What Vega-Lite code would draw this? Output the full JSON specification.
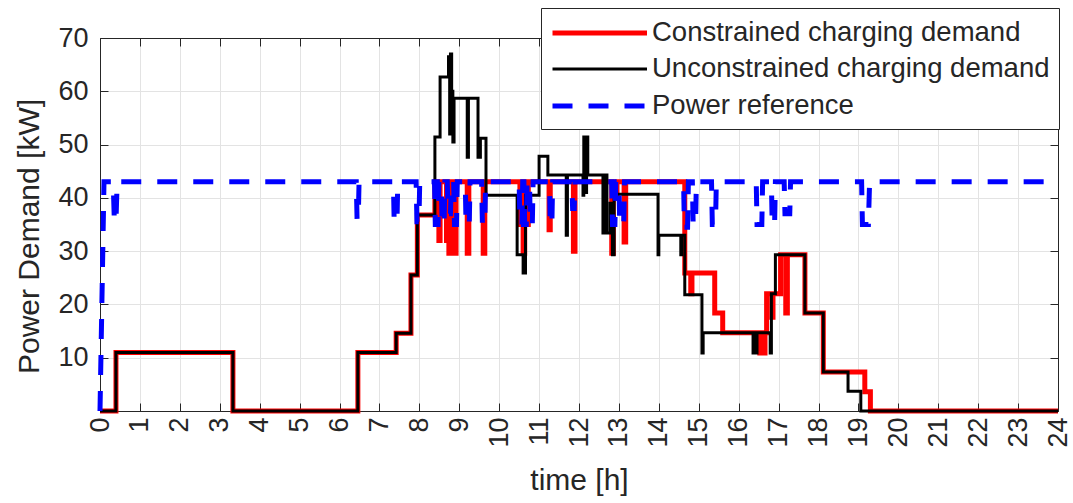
{
  "$schema": "https://vega.github.io/schema/vega-lite/v6.json",
  "width": 958,
  "height": 373,
  "autosize": {"type": "none"},
  "padding": {"left": 100, "top": 38, "right": 15, "bottom": 92},
  "background": "white",
  "config": {
    "font": "Liberation Sans",
    "view": {"stroke": "#262626", "strokeWidth": 1},
    "axis": {
      "labelFont": "Liberation Sans",
      "titleFont": "Liberation Sans",
      "labelFontSize": 27,
      "titleFontSize": 30,
      "labelColor": "#262626",
      "titleColor": "#262626",
      "titleFontWeight": "normal",
      "domainColor": "#262626",
      "tickColor": "#262626",
      "gridColor": "#e3e3e3",
      "gridWidth": 1,
      "tickSize": -8,
      "labelOverlap": false,
      "labelBound": false,
      "labelFlush": false
    },
    "legend": {
      "labelFont": "Liberation Sans",
      "labelFontSize": 27.5,
      "labelColor": "#262626"
    }
  },
  "data": {
    "values": [
      {"series": "Unconstrained charging demand", "t": 0, "p": 0},
      {"series": "Unconstrained charging demand", "t": 0.4, "p": 11},
      {"series": "Unconstrained charging demand", "t": 3.33, "p": 0},
      {"series": "Unconstrained charging demand", "t": 6.46, "p": 11},
      {"series": "Unconstrained charging demand", "t": 7.42, "p": 14.6},
      {"series": "Unconstrained charging demand", "t": 7.79, "p": 25.5},
      {"series": "Unconstrained charging demand", "t": 7.95, "p": 36.8},
      {"series": "Unconstrained charging demand", "t": 8.39, "p": 51.4},
      {"series": "Unconstrained charging demand", "t": 8.52, "p": 62.7},
      {"series": "Unconstrained charging demand", "t": 8.73, "p": 66.5},
      {"series": "Unconstrained charging demand", "t": 8.76, "p": 52},
      {"series": "Unconstrained charging demand", "t": 8.78, "p": 67},
      {"series": "Unconstrained charging demand", "t": 8.81, "p": 60},
      {"series": "Unconstrained charging demand", "t": 8.84, "p": 50.5},
      {"series": "Unconstrained charging demand", "t": 8.87, "p": 58.7},
      {"series": "Unconstrained charging demand", "t": 9.2, "p": 47.6},
      {"series": "Unconstrained charging demand", "t": 9.23, "p": 58.7},
      {"series": "Unconstrained charging demand", "t": 9.47, "p": 47.6},
      {"series": "Unconstrained charging demand", "t": 9.53, "p": 51.2},
      {"series": "Unconstrained charging demand", "t": 9.67, "p": 40.5},
      {"series": "Unconstrained charging demand", "t": 10.45, "p": 29.3},
      {"series": "Unconstrained charging demand", "t": 10.6, "p": 25.9},
      {"series": "Unconstrained charging demand", "t": 10.66, "p": 40.5},
      {"series": "Unconstrained charging demand", "t": 11.0, "p": 47.8},
      {"series": "Unconstrained charging demand", "t": 11.22, "p": 44.3},
      {"series": "Unconstrained charging demand", "t": 11.68, "p": 33},
      {"series": "Unconstrained charging demand", "t": 11.71, "p": 44.3},
      {"series": "Unconstrained charging demand", "t": 12.1, "p": 40.5},
      {"series": "Unconstrained charging demand", "t": 12.12, "p": 51.4},
      {"series": "Unconstrained charging demand", "t": 12.17, "p": 41},
      {"series": "Unconstrained charging demand", "t": 12.19, "p": 51.4},
      {"series": "Unconstrained charging demand", "t": 12.22, "p": 44.3},
      {"series": "Unconstrained charging demand", "t": 12.6, "p": 33.4},
      {"series": "Unconstrained charging demand", "t": 12.63, "p": 44.3},
      {"series": "Unconstrained charging demand", "t": 12.7, "p": 33.4},
      {"series": "Unconstrained charging demand", "t": 12.78, "p": 39},
      {"series": "Unconstrained charging demand", "t": 12.84, "p": 29.3},
      {"series": "Unconstrained charging demand", "t": 12.88, "p": 40.7},
      {"series": "Unconstrained charging demand", "t": 13.98, "p": 29.3},
      {"series": "Unconstrained charging demand", "t": 14.0, "p": 33},
      {"series": "Unconstrained charging demand", "t": 14.55, "p": 29.3},
      {"series": "Unconstrained charging demand", "t": 14.57, "p": 33},
      {"series": "Unconstrained charging demand", "t": 14.65, "p": 21.8},
      {"series": "Unconstrained charging demand", "t": 15.08, "p": 10.9},
      {"series": "Unconstrained charging demand", "t": 15.11, "p": 14.7},
      {"series": "Unconstrained charging demand", "t": 16.36, "p": 10.9},
      {"series": "Unconstrained charging demand", "t": 16.39, "p": 14.7},
      {"series": "Unconstrained charging demand", "t": 16.43, "p": 10.9},
      {"series": "Unconstrained charging demand", "t": 16.46, "p": 14.7},
      {"series": "Unconstrained charging demand", "t": 16.79, "p": 10.9},
      {"series": "Unconstrained charging demand", "t": 16.82, "p": 22},
      {"series": "Unconstrained charging demand", "t": 16.92, "p": 29.3},
      {"series": "Unconstrained charging demand", "t": 17.66, "p": 18.4},
      {"series": "Unconstrained charging demand", "t": 18.12, "p": 7.3},
      {"series": "Unconstrained charging demand", "t": 18.74, "p": 3.7},
      {"series": "Unconstrained charging demand", "t": 19.06, "p": 0},
      {"series": "Unconstrained charging demand", "t": 24, "p": 0},

      {"series": "Constrained charging demand", "t": 0, "p": 0},
      {"series": "Constrained charging demand", "t": 0.4, "p": 11},
      {"series": "Constrained charging demand", "t": 3.33, "p": 0},
      {"series": "Constrained charging demand", "t": 6.46, "p": 11},
      {"series": "Constrained charging demand", "t": 7.42, "p": 14.6},
      {"series": "Constrained charging demand", "t": 7.79, "p": 25.5},
      {"series": "Constrained charging demand", "t": 7.95, "p": 36.8},
      {"series": "Constrained charging demand", "t": 8.39, "p": 43},
      {"series": "Constrained charging demand", "t": 8.49, "p": 32},
      {"series": "Constrained charging demand", "t": 8.52, "p": 43},
      {"series": "Constrained charging demand", "t": 8.68, "p": 32},
      {"series": "Constrained charging demand", "t": 8.7, "p": 43},
      {"series": "Constrained charging demand", "t": 8.74, "p": 29.6},
      {"series": "Constrained charging demand", "t": 8.77, "p": 43},
      {"series": "Constrained charging demand", "t": 8.88, "p": 29.6},
      {"series": "Constrained charging demand", "t": 8.92, "p": 43},
      {"series": "Constrained charging demand", "t": 9.2, "p": 29.6},
      {"series": "Constrained charging demand", "t": 9.24, "p": 43},
      {"series": "Constrained charging demand", "t": 9.6, "p": 29.6},
      {"series": "Constrained charging demand", "t": 9.64, "p": 43},
      {"series": "Constrained charging demand", "t": 10.52, "p": 35},
      {"series": "Constrained charging demand", "t": 10.55, "p": 43},
      {"series": "Constrained charging demand", "t": 10.6, "p": 29.6},
      {"series": "Constrained charging demand", "t": 10.64, "p": 43},
      {"series": "Constrained charging demand", "t": 10.7, "p": 35},
      {"series": "Constrained charging demand", "t": 10.73, "p": 43},
      {"series": "Constrained charging demand", "t": 11.25, "p": 34},
      {"series": "Constrained charging demand", "t": 11.28, "p": 43},
      {"series": "Constrained charging demand", "t": 11.86, "p": 30},
      {"series": "Constrained charging demand", "t": 11.9, "p": 43},
      {"series": "Constrained charging demand", "t": 12.82, "p": 29.6},
      {"series": "Constrained charging demand", "t": 12.86, "p": 40},
      {"series": "Constrained charging demand", "t": 12.95, "p": 43},
      {"series": "Constrained charging demand", "t": 13.13, "p": 31.7},
      {"series": "Constrained charging demand", "t": 13.17, "p": 43},
      {"series": "Constrained charging demand", "t": 14.65, "p": 25.9},
      {"series": "Constrained charging demand", "t": 14.8, "p": 22},
      {"series": "Constrained charging demand", "t": 14.83, "p": 25.9},
      {"series": "Constrained charging demand", "t": 15.4, "p": 18.4},
      {"series": "Constrained charging demand", "t": 15.6, "p": 14.7},
      {"series": "Constrained charging demand", "t": 16.53, "p": 10.9},
      {"series": "Constrained charging demand", "t": 16.56, "p": 14.7},
      {"series": "Constrained charging demand", "t": 16.62, "p": 10.9},
      {"series": "Constrained charging demand", "t": 16.66, "p": 14.7},
      {"series": "Constrained charging demand", "t": 16.7, "p": 22},
      {"series": "Constrained charging demand", "t": 16.83, "p": 17.6},
      {"series": "Constrained charging demand", "t": 16.86, "p": 22},
      {"series": "Constrained charging demand", "t": 17.05, "p": 29.3},
      {"series": "Constrained charging demand", "t": 17.18, "p": 18.4},
      {"series": "Constrained charging demand", "t": 17.22, "p": 29.3},
      {"series": "Constrained charging demand", "t": 17.66, "p": 18.4},
      {"series": "Constrained charging demand", "t": 18.12, "p": 7.3},
      {"series": "Constrained charging demand", "t": 19.16, "p": 3.6},
      {"series": "Constrained charging demand", "t": 19.3, "p": 0},
      {"series": "Constrained charging demand", "t": 24, "p": 0},

      {"series": "Power reference", "t": 0, "p": 0},
      {"series": "Power reference", "t": 0.1, "p": 43},
      {"series": "Power reference", "t": 0.33, "p": 43},
      {"series": "Power reference", "t": 0.36, "p": 35.5},
      {"series": "Power reference", "t": 0.4, "p": 35.5},
      {"series": "Power reference", "t": 0.43, "p": 43},
      {"series": "Power reference", "t": 6.42, "p": 43},
      {"series": "Power reference", "t": 6.44, "p": 36},
      {"series": "Power reference", "t": 6.47, "p": 36},
      {"series": "Power reference", "t": 6.49, "p": 43},
      {"series": "Power reference", "t": 7.35, "p": 43},
      {"series": "Power reference", "t": 7.37, "p": 35.5},
      {"series": "Power reference", "t": 7.44, "p": 35.5},
      {"series": "Power reference", "t": 7.46, "p": 43},
      {"series": "Power reference", "t": 7.92, "p": 43},
      {"series": "Power reference", "t": 7.94, "p": 35.5},
      {"series": "Power reference", "t": 7.99, "p": 35.5},
      {"series": "Power reference", "t": 8.01, "p": 43},
      {"series": "Power reference", "t": 8.38, "p": 43},
      {"series": "Power reference", "t": 8.4, "p": 35},
      {"series": "Power reference", "t": 8.47, "p": 35},
      {"series": "Power reference", "t": 8.49, "p": 43},
      {"series": "Power reference", "t": 8.55, "p": 43},
      {"series": "Power reference", "t": 8.57, "p": 35},
      {"series": "Power reference", "t": 8.62, "p": 35},
      {"series": "Power reference", "t": 8.64, "p": 43},
      {"series": "Power reference", "t": 8.7, "p": 43},
      {"series": "Power reference", "t": 8.72, "p": 37},
      {"series": "Power reference", "t": 8.78, "p": 37},
      {"series": "Power reference", "t": 8.8, "p": 43},
      {"series": "Power reference", "t": 8.86, "p": 43},
      {"series": "Power reference", "t": 8.88, "p": 35},
      {"series": "Power reference", "t": 8.93, "p": 35},
      {"series": "Power reference", "t": 8.95, "p": 43},
      {"series": "Power reference", "t": 9.15, "p": 43},
      {"series": "Power reference", "t": 9.17, "p": 35},
      {"series": "Power reference", "t": 9.25, "p": 35},
      {"series": "Power reference", "t": 9.27, "p": 43},
      {"series": "Power reference", "t": 9.56, "p": 43},
      {"series": "Power reference", "t": 9.58, "p": 35},
      {"series": "Power reference", "t": 9.64, "p": 35},
      {"series": "Power reference", "t": 9.66, "p": 43},
      {"series": "Power reference", "t": 10.5, "p": 43},
      {"series": "Power reference", "t": 10.52, "p": 35},
      {"series": "Power reference", "t": 10.57, "p": 35},
      {"series": "Power reference", "t": 10.59, "p": 43},
      {"series": "Power reference", "t": 10.62, "p": 43},
      {"series": "Power reference", "t": 10.64, "p": 35},
      {"series": "Power reference", "t": 10.68, "p": 35},
      {"series": "Power reference", "t": 10.7, "p": 43},
      {"series": "Power reference", "t": 10.76, "p": 43},
      {"series": "Power reference", "t": 10.78, "p": 35},
      {"series": "Power reference", "t": 10.83, "p": 35},
      {"series": "Power reference", "t": 10.85, "p": 43},
      {"series": "Power reference", "t": 11.26, "p": 43},
      {"series": "Power reference", "t": 11.28, "p": 35},
      {"series": "Power reference", "t": 11.32, "p": 35},
      {"series": "Power reference", "t": 11.34, "p": 43},
      {"series": "Power reference", "t": 11.82, "p": 43},
      {"series": "Power reference", "t": 11.84, "p": 38},
      {"series": "Power reference", "t": 11.88, "p": 38},
      {"series": "Power reference", "t": 11.9, "p": 43},
      {"series": "Power reference", "t": 12.82, "p": 43},
      {"series": "Power reference", "t": 12.84, "p": 35},
      {"series": "Power reference", "t": 12.9, "p": 35},
      {"series": "Power reference", "t": 12.92, "p": 43},
      {"series": "Power reference", "t": 13.0, "p": 43},
      {"series": "Power reference", "t": 13.02, "p": 35},
      {"series": "Power reference", "t": 13.12, "p": 35},
      {"series": "Power reference", "t": 13.14, "p": 43},
      {"series": "Power reference", "t": 14.62, "p": 43},
      {"series": "Power reference", "t": 14.64, "p": 34.5},
      {"series": "Power reference", "t": 14.72, "p": 34.5},
      {"series": "Power reference", "t": 14.74, "p": 43},
      {"series": "Power reference", "t": 14.84, "p": 43},
      {"series": "Power reference", "t": 14.86, "p": 35},
      {"series": "Power reference", "t": 14.92, "p": 35},
      {"series": "Power reference", "t": 14.94, "p": 43},
      {"series": "Power reference", "t": 15.32, "p": 43},
      {"series": "Power reference", "t": 15.34, "p": 35},
      {"series": "Power reference", "t": 15.42, "p": 35},
      {"series": "Power reference", "t": 15.44, "p": 43},
      {"series": "Power reference", "t": 16.44, "p": 43},
      {"series": "Power reference", "t": 16.46, "p": 35},
      {"series": "Power reference", "t": 16.58, "p": 35},
      {"series": "Power reference", "t": 16.6, "p": 43},
      {"series": "Power reference", "t": 16.82, "p": 43},
      {"series": "Power reference", "t": 16.84, "p": 35},
      {"series": "Power reference", "t": 16.9, "p": 35},
      {"series": "Power reference", "t": 16.92, "p": 43},
      {"series": "Power reference", "t": 17.14, "p": 43},
      {"series": "Power reference", "t": 17.16, "p": 37},
      {"series": "Power reference", "t": 17.28, "p": 37},
      {"series": "Power reference", "t": 17.3, "p": 43},
      {"series": "Power reference", "t": 19.08, "p": 43},
      {"series": "Power reference", "t": 19.1, "p": 35},
      {"series": "Power reference", "t": 19.25, "p": 35},
      {"series": "Power reference", "t": 19.28, "p": 43},
      {"series": "Power reference", "t": 24, "p": 43}
    ]
  },
  "resolve": {"axis": {"x": "independent", "y": "independent"}},
  "layer": [
    {
      "encoding": {
        "x": {
          "field": "t", "type": "quantitative",
          "scale": {"domain": [0, 24], "nice": false},
          "axis": {
            "orient": "bottom",
            "title": "time [h]",
            "values": [0,1,2,3,4,5,6,7,8,9,10,11,12,13,14,15,16,17,18,19,20,21,22,23,24],
            "labelAngle": -90,
            "labelPadding": 14,
            "titlePadding": 18
          }
        },
        "y": {
          "field": "p", "type": "quantitative",
          "scale": {"domain": [0, 70], "nice": false},
          "axis": {
            "orient": "left",
            "title": "Power Demand [kW]",
            "values": [10, 20, 30, 40, 50, 60, 70],
            "labelPadding": 20,
            "titlePadding": 13,
            "titleY": 198
          }
        },
        "color": {
          "field": "series", "type": "nominal",
          "scale": {
            "domain": ["Constrained charging demand", "Unconstrained charging demand", "Power reference"],
            "range": ["#ff0000", "#000000", "#0000ff"]
          },
          "legend": {
            "title": null,
            "orient": "none",
            "legendX": 441,
            "legendY": -30,
            "symbolType": "M-1,0H6",
            "symbolSize": 729,
            "labelLimit": 0,
            "fillColor": "white",
            "strokeColor": "#262626",
            "padding": 9,
            "labelOffset": 70,
            "rowPadding": 7
          }
        },
        "strokeDash": {
          "field": "series", "type": "nominal",
          "scale": {
            "domain": ["Constrained charging demand", "Unconstrained charging demand", "Power reference"],
            "range": [[1, 0], [1, 0], [20, 16]]
          }
        },
        "strokeWidth": {
          "field": "series", "type": "nominal",
          "scale": {
            "type": "ordinal",
            "domain": ["Constrained charging demand", "Unconstrained charging demand", "Power reference"],
            "range": [5, 3, 5]
          }
        }
      },
      "layer": [
        {
          "transform": [{"filter": "datum.series === 'Constrained charging demand'"}],
          "mark": {"type": "line", "interpolate": "step-after"}
        },
        {
          "transform": [{"filter": "datum.series === 'Unconstrained charging demand'"}],
          "mark": {"type": "line", "interpolate": "step-after"}
        },
        {
          "transform": [{"filter": "datum.series === 'Power reference'"}],
          "mark": {"type": "line", "interpolate": "linear"}
        }
      ]
    },
    {
      "transform": [{"filter": "datum.series === 'Power reference'"}],
      "mark": {"type": "line", "strokeOpacity": 0},
      "encoding": {
        "x": {
          "field": "t", "type": "quantitative",
          "axis": {"orient": "top", "labels": false, "grid": false, "title": null, "values": [0,1,2,3,4,5,6,7,8,9,10,11,12,13,14,15,16,17,18,19,20,21,22,23,24]}
        },
        "y": {
          "field": "p", "type": "quantitative",
          "axis": {"orient": "right", "labels": false, "grid": false, "title": null, "values": [0,10,20,30,40,50,60,70]}
        }
      }
    }
  ]
}
